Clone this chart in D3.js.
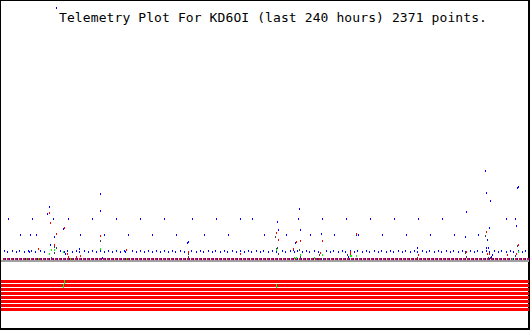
<!DOCTYPE html>
<meta charset="utf-8">
<script src="https://d3js.org/d3.v7.min.js"></script>
<style>body { margin: 0; background: #fff; }</style>
<svg id="plot" width="530" height="330" shape-rendering="crispEdges"></svg>
<script>
const title = "Telemetry Plot For KD6OI (last 240 hours) 2371 points.";

// [hours, value] per channel
const blueC = [[1.5,8],[2.9,7],[5.1,8],[7.0,7],[8.3,8],[10.6,7],[12.4,8],[12.9,7],[13.8,8],[15.6,7],[17.9,8],[19.7,7],
  [27.0,8],[28.8,7],[30.1,8],[32.4,7],[34.2,8],[35.6,7],[37.9,8],[39.7,7],[41.5,8],[43.3,7],[45.1,8],[47.0,7],[48.8,8],
  [50.6,7],[52.4,8],[54.2,7],[56.0,8],[56.5,7],[59.7,8],[61.5,7],[63.3,8],[65.1,7],[67.0,8],[68.8,7],[70.6,8],[72.4,7],
  [74.2,8],[76.0,7],[77.9,8],[79.2,7],[81.5,8],[83.3,7],[86.5,8],[88.8,7],[90.6,8],[92.0,7],[94.2,8],[96.0,7],[97.4,8],
  [99.7,7],[101.5,8],[102.9,7],[105.1,8],[107.0,7],[108.8,8],[110.6,7],[112.4,8],[113.8,7],[116.0,8],[117.9,7],[119.2,8],
  [121.5,7],[123.3,8],[125.1,7],[127.9,8],[129.2,7],[131.5,8],[133.3,7],[134.7,8],[137.0,7],[138.8,8],[140.1,7],[142.4,8],
  [144.2,7],[147.9,8],[149.7,7],[151.0,8],[153.3,7],[155.1,8],[156.5,7],[158.8,8],[160.6,7],[162.0,8],[164.2,7],[166.0,8],
  [167.4,7],[169.7,8],[171.5,7],[172.9,8],[175.1,7],[177.0,8],[178.3,7],[180.6,8],[182.4,7],[183.8,8],[186.0,7],[187.9,8],
  [189.2,7],[191.5,8],[193.3,7],[194.7,8],[197.0,7],[198.8,8],[200.1,7],[202.4,8],[204.2,7],[205.6,8],[207.9,7],[209.7,8],
  [211.0,7],[213.3,8],[215.1,7],[216.5,8],[218.8,7],[220.6,8],[222.0,7],[224.2,8],[226.0,7],[227.4,8],[229.7,7],[231.5,8],
  [232.9,7],[235.1,8],[237.0,7],[238.3,8]];
const blueB = [[8.8,24],[13.3,24],[16.0,24],[36.0,24],[47.0,24],[57.9,24],[68.8,24],[79.7,24],[92.4,24],[103.3,24],
  [119.7,24],[129.7,24],[140.6,24],[151.5,24],[161.2,24],[162.4,24],[173.3,24],[184.2,24],[195.1,24],[206.0,24],[217.0,24]];
const blueA = [[3.3,40],[14.2,40],[23.8,40],[30.6,40],[41.5,40],[52.4,40],[63.3,40],[74.2,40],[87.0,40],[97.9,40],
  [108.8,40],[114.2,40],[135.1,40],[146.0,40],[157.0,40],[167.9,40],[178.8,40],[189.7,40],[200.6,40],[229.7,40],[233.8,40]];
const blueOther = [[25.2,251],[22.0,52],[21.1,45],[24.3,22],[28.2,30],[44.8,65],[45.2,48],[22.3,14],[16.6,10],[29.1,5],
  [35.5,10],[45.7,1],[135.6,50],[125.6,37],[126.0,29],[136.0,29],[133.8,16],[145.6,25],[84.7,16],[85.1,17],[220.1,88],
  [220.6,66],[222.4,58],[222.0,31],[234.7,71],[235.1,72],[211.5,47],[234.2,33],[211.0,22],[221.0,19],[220.6,11],[221.5,11],
  [189.2,11],[222.9,2],[223.3,4],[157.6,2],[132.9,9],[230.1,4]];
const red = [[21.6,46],[22.3,36],[25.0,25],[28.6,31],[45.2,23],[24.3,14],[17.0,10],[29.8,5],[30.5,2],[35.9,3],[34.1,2],
  [56.8,9],[125.1,26],[126.0,19],[134.2,17],[136.0,18],[146.0,18],[161.5,25],[85.0,7],[108.8,5],[132.9,10],[145.1,6],
  [158.5,5],[220.5,27],[189.7,4],[211.5,7],[221.0,5],[222.0,5],[235.1,14],[234.2,5],[158.6,7],[230.1,4]];
const gray = [[44.8,18],[23.9,12],[25.2,11],[24.3,6],[124.7,22],[85.0,5],[85.0,2],[125.6,11],[125.1,10],[126.0,5],
  [135.6,9],[136.0,2],[144.7,4],[144.2,0],[146.5,0],[157.3,4],[220.0,23],[189.2,1],[211.0,6],[211.5,2],[221.5,1],
  [222.4,1],[234.7,13],[233.8,3],[22.7,1]];
const green = [[22.5,9],[24.3,9],[21.6,5],[28.4,7],[45.2,10],[125.1,9],[136.0,4],[133.3,1],[134.2,1],[146.0,4],
  [142.4,1],[159.0,3],[161.2,3],[158.6,3],[235.1,7],[11.4,0],[16.8,0],[31.4,0],[56.8,0],[232.3,0]];
// packets where all analog channels read zero
const zeroHours = [0.9,2.7,4.5,6.4,8.2,10.0,11.8,13.6,15.5,17.3,19.1,20.9,22.7,24.5,26.4,28.2,30.0,31.8,33.6,35.5,
  37.3,39.1,40.9,42.7,44.5,46.4,48.2,50.0,51.8,53.6,55.5,57.3,59.1,60.9,62.7,64.5,66.4,68.2,70.0,71.8,73.6,75.5,77.3,
  79.1,80.9,82.7,84.5,86.4,88.2,90.0,91.8,93.6,95.5,97.3,99.1,100.9,102.7,104.5,106.4,108.2,110.0,111.8,113.6,115.5,
  117.3,119.1,120.9,122.7,124.5,126.4,128.2,130.0,131.8,133.6,135.5,137.3,139.1,140.9,142.7,144.5,146.4,148.2,150.0,
  151.8,153.6,155.5,157.3,159.1,160.9,162.7,164.5,166.4,168.2,170.0,171.8,173.6,175.5,177.3,179.1,180.9,182.7,184.5,
  186.4,188.2,190.0,191.8,193.6,195.5,197.3,199.1,200.9,202.7,204.5,206.4,208.2,210.0,211.8,213.6,215.5,217.3,219.1,
  220.9,222.7,224.5,226.4,228.2,230.0,231.8,233.6,235.5,237.3,239.1];
// digital bits: all set over the period except these [hours, bit]
const bits = [0, 1, 2, 3, 4, 5, 6, 7];
const bitsOff = [[28.6, 0], [28.2, 1], [125.0, 1]];

const svg = d3.select("#plot");
const x = d3.scaleLinear().domain([0, 240]).range([1, 529]);
const y = d3.scaleLinear().domain([0, 255]).range([259, 4]);
const band = d3.scaleBand().domain(bits).range([280, 311]).paddingInner(0.25);

// frame
svg.append("rect").attr("x", 0).attr("y", 0).attr("width", 530).attr("height", 330).attr("fill", "#fff");
svg.append("rect").attr("x", 0).attr("y", 0).attr("width", 1).attr("height", 330).attr("fill", "#000");
svg.append("rect").attr("x", 0).attr("y", 0).attr("width", 530).attr("height", 1).attr("fill", "#000");
svg.append("rect").attr("x", 528).attr("y", 0).attr("width", 2).attr("height", 330).attr("fill", "#000");
svg.append("rect").attr("x", 0).attr("y", 328).attr("width", 530).attr("height", 2).attr("fill", "#000");

// baseline
svg.append("rect").attr("x", x(0)).attr("y", y(0) + 1).attr("width", x(240) - x(0)).attr("height", 2).attr("fill", "#a0a0a0");

function dots(data, color, w) {
  svg.append("g").selectAll("rect").data(data).join("rect")
    .attr("x", d => Math.round(x(d[0])))
    .attr("y", d => Math.round(y(d[1])) - 1)
    .attr("width", w)
    .attr("height", 2)
    .attr("fill", color);
}

svg.append("g").selectAll("rect").data(zeroHours).join("rect")
  .attr("x", d => Math.round(x(d))).attr("y", y(0) - 1).attr("width", 2).attr("height", 2).attr("fill", "#f00");
svg.append("g").selectAll("rect").data(zeroHours).join("rect")
  .attr("x", d => Math.round(x(d)) + 2).attr("y", y(0) - 1).attr("width", 1).attr("height", 2).attr("fill", "#00f");

dots(blueC, "#00f", 1);
dots(blueB, "#00f", 1);
dots(blueA, "#00f", 1);
dots(blueOther, "#00f", 1);
dots(gray, "#404040", 1);
dots(green, "#0f0", 1);
dots(red, "#f00", 1);

// bit stripes
svg.append("g").selectAll("rect").data(bits).join("rect")
  .attr("x", x(0)).attr("y", d => band(d)).attr("width", x(240) - x(0)).attr("height", band.bandwidth()).attr("fill", "#f00");
svg.append("g").selectAll("rect").data(bitsOff).join("rect")
  .attr("x", d => Math.round(x(d[0]))).attr("y", d => band(d[1])).attr("width", 1).attr("height", band.step()).attr("fill", "#0f0");

svg.append("text").attr("x", 59).attr("y", 22)
  .style("font-family", "'DejaVu Sans Mono', monospace").style("font-size", "13px")
  .style("letter-spacing", "0.1px")
  .text(title);
</script>
